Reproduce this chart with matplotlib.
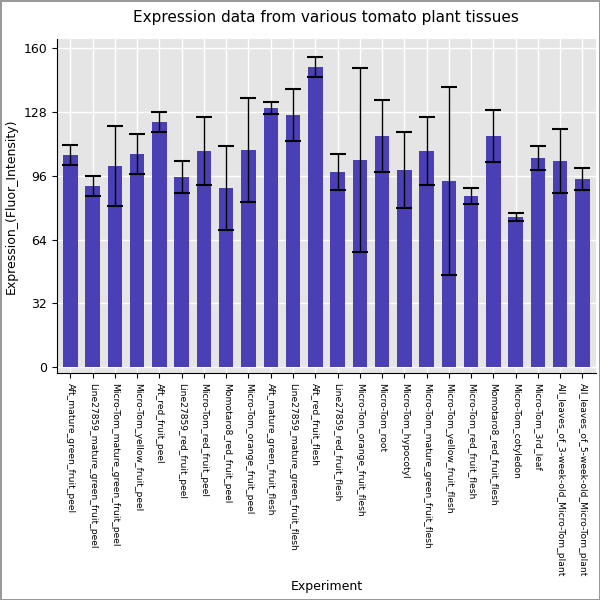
import numpy as np
import matplotlib.pyplot as plt

tissues = ["Aft_mature_green_fruit_peel", "Line27859_mature_green_fruit_peel",
           "Micro-Tom_mature_green_fruit_peel", "Micro-Tom_yellow_fruit_peel",
           "Aft_red_fruit_peel", "Line27859_red_fruit_peel", "Micro-Tom_red_fruit_peel",
           "Momotaro8_red_fruit_peel", "Micro-Tom_orange_fruit_peel",
           "Aft_mature_green_fruit_flesh", "Line27859_mature_green_fruit_flesh",
           "Aft_red_fruit_flesh", "Line27859_red_fruit_flesh", "Micro-Tom_orange_fruit_flesh",
           "Micro-Tom_root", "Micro-Tom_hypocotyl", "Micro-Tom_mature_green_fruit_flesh",
           "Micro-Tom_yellow_fruit_flesh", "Micro-Tom_red_fruit_flesh",
           "Momotaro8_red_fruit_flesh", "Micro-Tom_cotyledon", "Micro-Tom_3rd_leaf",
           "All_leaves_of_3-week-old_Micro-Tom_plant", "All_leaves_of_5-week-old_Micro-Tom_plant"]
expr = [106.3, 90.8, 100.8, 106.8, 122.9, 95.3, 108.3, 89.8, 108.8, 129.9, 126.4, 150.5,
        97.8, 103.8, 115.8, 98.8, 108.3, 93.3, 85.8, 115.8, 75.2, 104.8, 103.3, 94.3]
err = [5, 5, 20, 10, 5, 8, 17, 21, 26, 3, 13, 5, 9, 46, 18, 19, 17, 47, 4, 13, 2, 6, 16, 5.5]

fig = plt.figure(figsize=(6, 6), dpi=100)
fig.patch.set_edgecolor('#999999')
fig.patch.set_linewidth(1)
ax = fig.add_axes([0.095, 0.378, 0.898, 0.557])
ax.set_facecolor('#e5e5e5')
x = np.arange(len(tissues))
ax.bar(x, expr, width=0.65, color='#4b3fb5', zorder=2)
ax.errorbar(x, expr, yerr=err, fmt='none', ecolor='black', elinewidth=1, capsize=6,
            capthick=1.5, zorder=3)
ax.set_xlim(-0.6, len(tissues) - 0.4)
ax.set_ylim(-3, 164.5)
ax.set_yticks([0, 32, 64, 96, 128, 160])
ax.set_xticks(x)
ax.set_xticklabels(tissues, rotation=270, fontsize=6.6)
ax.tick_params(axis='y', labelsize=9)
ax.grid(True, color='white', linewidth=1, zorder=0)
ax.set_axisbelow(True)
for s in ax.spines.values():
    s.set_visible(False)
ax.spines['left'].set_visible(True)
ax.spines['bottom'].set_visible(True)
ax.set_ylabel('Expression_(Fluor_Intensity)', fontsize=9)
ax.set_xlabel('Experiment', fontsize=9)
ax.xaxis.set_label_coords(0.5, -0.62)
ax.set_title('Expression data from various tomato plant tissues', fontsize=11, pad=12)
fig.savefig('out.png', edgecolor=fig.get_edgecolor())
